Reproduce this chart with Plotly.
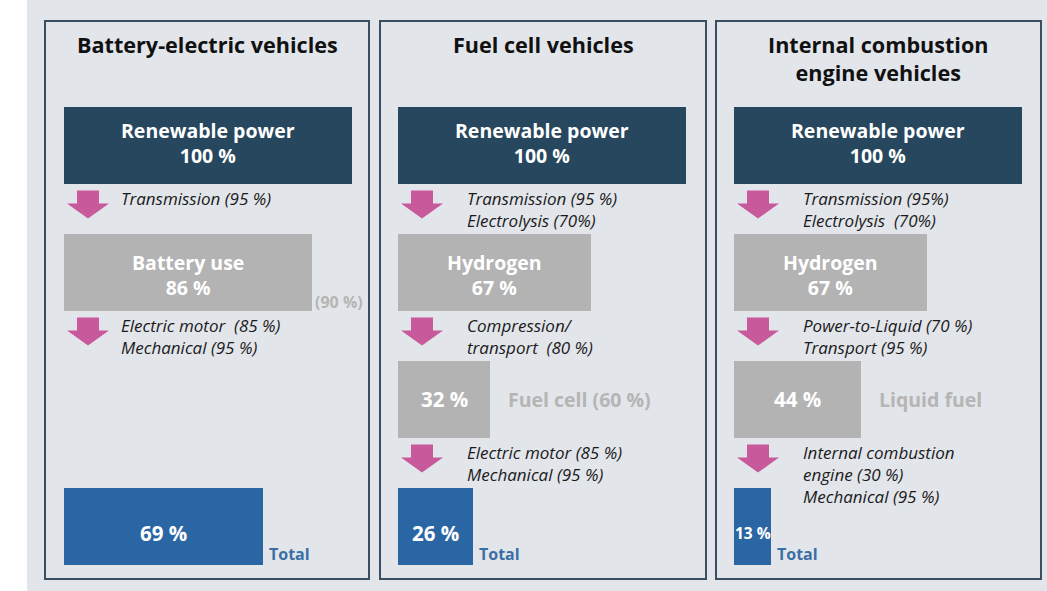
import plotly.graph_objects as go

W, H = 1047, 591

# ---- data ----
panel_titles = ["Battery-electric vehicles", "Fuel cell vehicles",
                "Internal combustion<br>engine vehicles"]

bev_rows = [0, 1, 3]
bev_values = [100, 86, 69]
bev_names = ["Renewable power", "Battery use", ""]

fcev_rows = [0, 1, 2, 3]
fcev_values = [100, 67, 32, 26]
fcev_names = ["Renewable power", "Hydrogen", "", ""]

ice_rows = [0, 1, 2, 3]
ice_values = [100, 67, 44, 13]
ice_names = ["Renewable power", "Hydrogen", "", ""]

bev_steps = ["Transmission (95 %)",
             "Electric motor  (85 %)<br>Mechanical (95 %)"]
fcev_steps = ["Transmission (95 %)<br>Electrolysis (70%)",
              "Compression/<br>transport  (80 %)",
              "Electric motor (85 %)<br>Mechanical (95 %)"]
ice_steps = ["Transmission (95%)<br>Electrolysis  (70%)",
             "Power-to-Liquid (70 %)<br>Transport (95 %)",
             "Internal combustion<br>engine (30 %)<br>Mechanical (95 %)"]

# side labels: (text, row)
bev_side = ("(90 %)", 1)
fcev_side = ("Fuel cell (60 %)", 2)
ice_side = ("Liquid fuel", 2)

total_label = "Total"

panels = [
    dict(rows=bev_rows, values=bev_values, names=bev_names, steps=bev_steps, side=bev_side),
    dict(rows=fcev_rows, values=fcev_values, names=fcev_names, steps=fcev_steps, side=fcev_side),
    dict(rows=ice_rows, values=ice_values, names=ice_names, steps=ice_steps, side=ice_side),
]

# ---- styling ----
FONT = "Open Sans"
BG = "#e2e5ea"
BORDER = "#3b4e5e"
ROW_COLORS = ["#27475e", "#b3b3b3", "#b3b3b3", "#2b66a4"]
ARROW = "#c85a9b"
LABEL_GREY = "#b5b5b5"
TOTAL_BLUE = "#3a6fa6"

box_left = [64, 398, 734]          # pixel x of 0 %
box_w = 288                        # pixel width of 100 %
frame_x = [(45, 369), (380, 706), (716, 1041)]
frame_y = (21, 579)
text_off = [55, 67, 67]
row_px = 127                       # pixels between rows
row0_px = 145                      # pixel y of first row centre


def px(x):
    return x / W


def py(y):
    return 1 - y / H


fig = go.Figure()

for i, p in enumerate(panels):
    ax = "x" if i == 0 else f"x{i + 1}"
    fig.add_trace(go.Bar(
        x=p["values"], y=p["rows"], orientation="h",
        xaxis=ax, yaxis="y",
        marker=dict(color=[ROW_COLORS[r] for r in p["rows"]], line=dict(width=0)),
        width=77 / row_px, hoverinfo="skip", showlegend=False,
    ))

layout_axes = {}
for i in range(3):
    key = "xaxis" if i == 0 else f"xaxis{i + 1}"
    layout_axes[key] = dict(
        domain=[px(box_left[i]), px(box_left[i] + box_w)], range=[0, 100],
        visible=False, fixedrange=True, anchor="y",
    )

fig.update_layout(
    **layout_axes,
    yaxis=dict(domain=[0, 1], range=[(H - row0_px) / row_px, -row0_px / row_px],
               visible=False, fixedrange=True),
    width=W, height=H,
    margin=dict(l=0, r=0, t=0, b=0),
    paper_bgcolor=BG, plot_bgcolor="rgba(0,0,0,0)",
    font=dict(family=FONT, color="#1a1a1a"),
    bargap=0,
)

shapes = [dict(type="rect", xref="paper", yref="paper", x0=0, x1=px(27), y0=0, y1=1,
               fillcolor="white", line=dict(width=0), layer="below")]
annotations = []

for i, p in enumerate(panels):
    ax = "x" if i == 0 else f"x{i + 1}"
    fx0, fx1 = frame_x[i]
    # panel frame
    shapes.append(dict(type="rect", xref="paper", yref="paper",
                       x0=px(fx0), x1=px(fx1), y0=py(frame_y[0]), y1=py(frame_y[1]),
                       line=dict(color=BORDER, width=2), fillcolor="rgba(0,0,0,0)", layer="below"))
    # title
    annotations.append(dict(text=f"<b>{panel_titles[i]}</b>", xref="paper", yref="paper",
                            x=px((fx0 + fx1) / 2), y=py(28), xanchor="center", yanchor="top",
                            showarrow=False, font=dict(size=21.6, color="#111111")))

    # labels inside the boxes
    for r, v, name in zip(p["rows"], p["values"], p["names"]):
        if name:
            txt = f"<b>{name}</b><br><b>{v} %</b>"
            size, shift = 19.5, -3 if r else 2
        else:
            txt = f"<b>{v} %</b>"
            size = 20.5 if v > 20 else 15.5
            shift = -7 if r == 3 else 0
        annotations.append(dict(text=txt, xref=ax, yref="y", x=v / 2, y=r,
                                xanchor="center", yanchor="middle", showarrow=False,
                                yshift=shift, font=dict(size=size, color="white")))

    # arrows + step notes between consecutive rows
    rows = p["rows"]
    for k, step in enumerate(p["steps"]):
        r = rows[k]
        gap_c = row0_px + row_px * r + row_px / 2
        cx = box_left[i] + 24
        top, mid, tip = gap_c - 18, gap_c - 5, gap_c + 10
        path = (f"M {px(cx - 11)},{py(top)} L {px(cx + 11)},{py(top)} "
                f"L {px(cx + 11)},{py(mid)} L {px(cx + 21)},{py(mid)} "
                f"L {px(cx)},{py(tip)} L {px(cx - 21)},{py(mid)} "
                f"L {px(cx - 11)},{py(mid)} Z")
        shapes.append(dict(type="path", xref="paper", yref="paper", path=path,
                           fillcolor=ARROW, line=dict(width=0)))
        annotations.append(dict(text=f"<i>{step}</i>", xref="paper", yref="paper",
                                x=px(box_left[i] + text_off[i]), y=py(top - 6),
                                xanchor="left", yanchor="top", align="left",
                                showarrow=False, font=dict(size=17, color="#1a1a1a")))

    # grey side label
    s_txt, s_row = p["side"]
    s_val = p["values"][p["rows"].index(s_row)]
    if i == 0:
        annotations.append(dict(text=f"<b>{s_txt}</b>", xref=ax, yref="y", x=s_val, y=s_row,
                                xanchor="left", yanchor="middle", xshift=1, yshift=-30,
                                showarrow=False, font=dict(size=16, color=LABEL_GREY)))
    else:
        annotations.append(dict(text=f"<b>{s_txt}</b>", xref=ax, yref="y", x=s_val, y=s_row,
                                xanchor="left", yanchor="middle", xshift=16,
                                showarrow=False, font=dict(size=19.5, color=LABEL_GREY)))

    # total label
    t_val = p["values"][-1]
    annotations.append(dict(text=f"<b>{total_label}</b>", xref=ax, yref="y", x=t_val, y=3,
                            xanchor="left", yanchor="middle", xshift=4, yshift=-28,
                            showarrow=False, font=dict(size=16, color=TOTAL_BLUE)))

fig.update_layout(shapes=shapes, annotations=annotations)

fig.write_html("out.html", config={"displayModeBar": False},
               post_script="document.body.style.margin='0';document.body.style.background='%s';" % BG)
